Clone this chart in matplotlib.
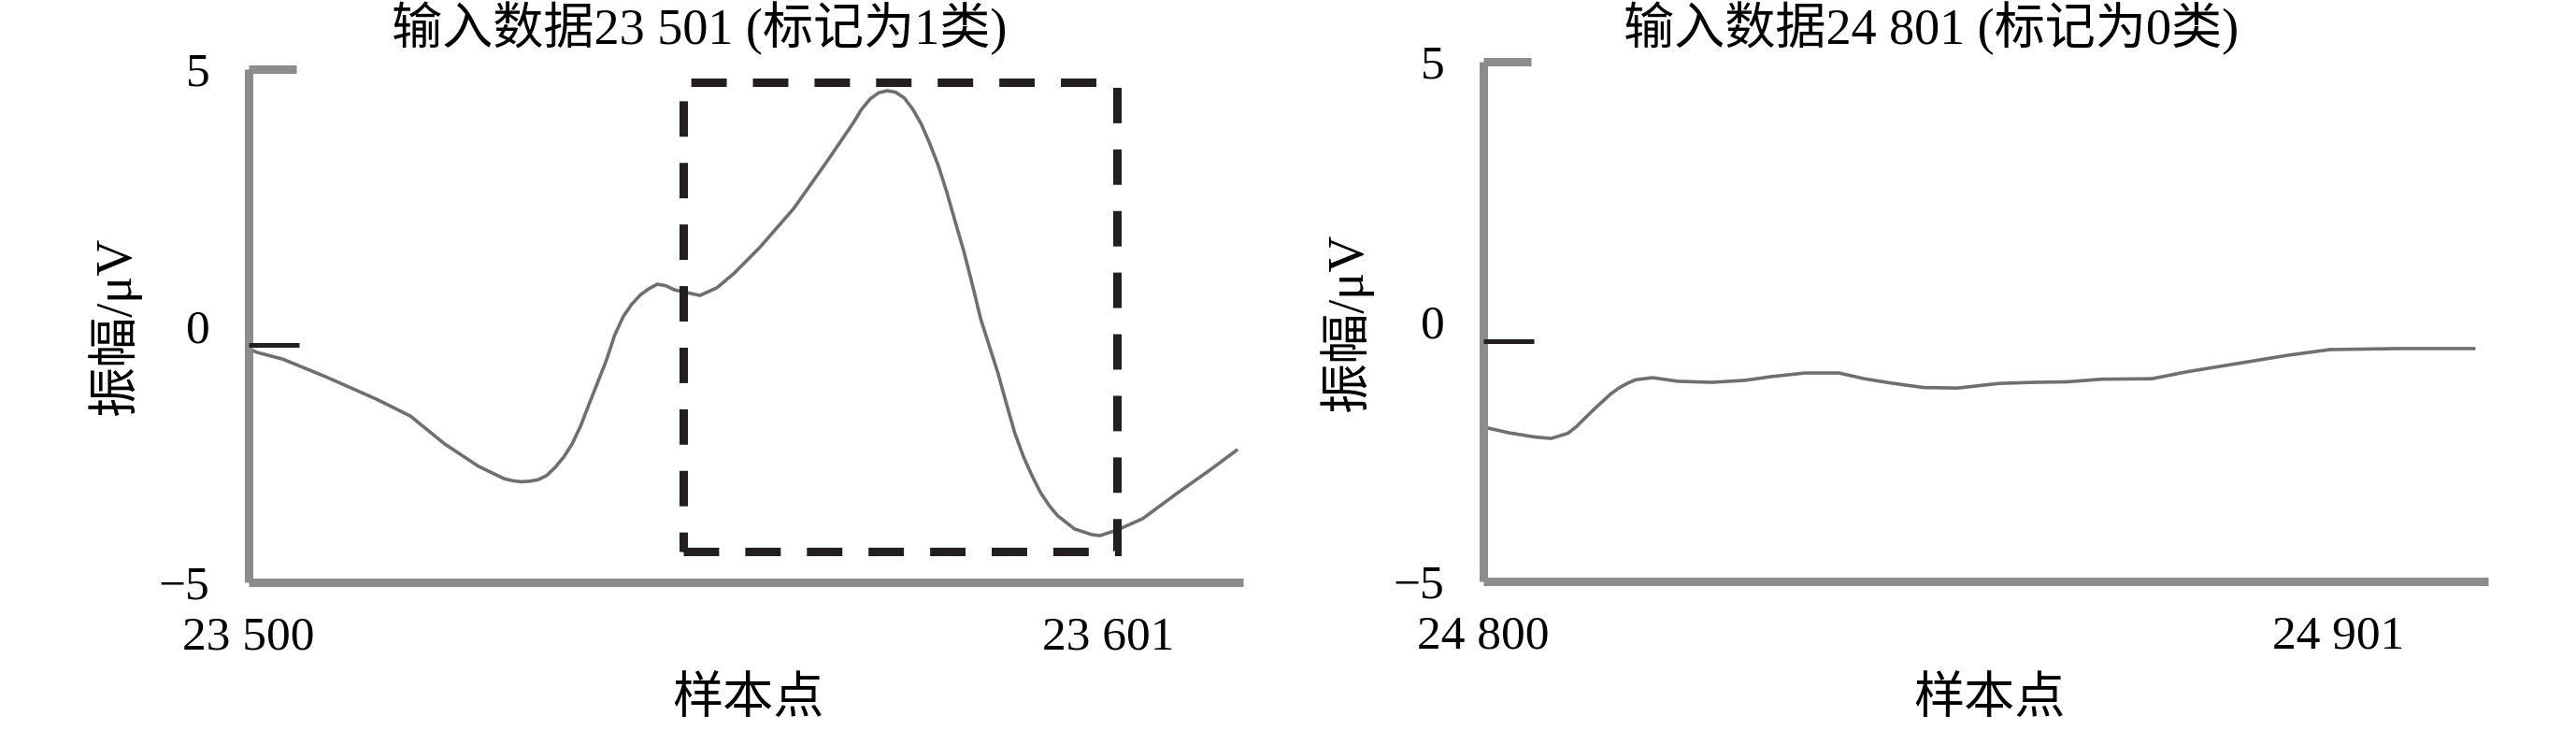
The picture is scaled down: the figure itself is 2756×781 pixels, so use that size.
import matplotlib
matplotlib.use('Agg')
import matplotlib.pyplot as plt
from matplotlib.patches import Rectangle
import numpy as np

plt.rcParams['font.family'] = ['Liberation Serif', 'Noto Sans CJK SC']
plt.rcParams['axes.unicode_minus'] = True

# ---------------- data ----------------
left_start = 23500
left_offsets = [0, 1, 4, 9, 15, 19, 23, 27, 30, 31, 32, 33, 34, 35, 36, 37, 38, 39, 40, 41,
                42, 43, 44, 45, 46, 47, 48, 49, 50, 53, 55, 57, 60, 64, 68, 71, 72, 73, 74,
                75, 76, 77, 78, 79, 80, 81, 82, 83, 84, 85, 86, 87, 88, 89, 90, 91, 92, 93,
                94, 95, 97, 99, 100, 102, 105, 109, 113, 116]
left_values = [-0.45, -0.52, -0.65, -0.99, -1.43, -1.76, -2.30, -2.74, -2.98, -3.02, -3.04,
               -3.03, -3.00, -2.92, -2.76, -2.56, -2.30, -1.95, -1.52, -1.10, -0.68, -0.18,
               0.18, 0.42, 0.60, 0.72, 0.81, 0.78, 0.70, 0.59, 0.74, 1.02, 1.52, 2.28, 3.22,
               3.95, 4.22, 4.42, 4.54, 4.58, 4.55, 4.44, 4.22, 3.93, 3.55, 3.12, 2.60, 2.02,
               1.45, 0.80, 0.12, -0.40, -0.92, -1.52, -2.10, -2.55, -2.92, -3.25, -3.50,
               -3.70, -3.96, -4.07, -4.09, -3.98, -3.76, -3.27, -2.80, -2.43]

right_start = 24800
right_offsets = [0, 3, 6, 8, 10, 11, 12, 13, 14, 15, 16, 17, 18, 20, 23, 27, 31, 34, 38, 42,
                 45, 48, 52, 56, 61, 65, 69, 73, 79, 83, 89, 95, 100, 108, 117]
right_values = [-2.03, -2.14, -2.22, -2.25, -2.15, -2.02, -1.86, -1.70, -1.55, -1.40, -1.28,
                -1.19, -1.12, -1.08, -1.15, -1.17, -1.13, -1.06, -0.99, -0.99, -1.10, -1.18,
                -1.27, -1.28, -1.19, -1.17, -1.16, -1.11, -1.10, -0.97, -0.81, -0.65, -0.54,
                -0.52, -0.52]

titles = ['输入数据23 501 (标记为1类)', '输入数据24 801 (标记为0类)']
ylabel = '振幅/μV'
xlabel = '样本点'
left_xticks = [23500, 23601]
left_xticklabels = ['23 500', '23 601']
right_xticks = [24800, 24901]
right_xticklabels = ['24 800', '24 901']
yticks = [-5, 0, 5]
yticklabels = ['−5', '0', '5']
marker_level = [-0.37, -0.38]   # short black start markers
box_x = [23551, 23602]
box_y = [-4.4, 4.75]

# ---------------- figure ----------------
W, H = 2756, 781
DPI = 100
fig = plt.figure(figsize=(W / DPI, H / DPI), dpi=DPI)

def px_axes(x0, x1, ytop, ybot):
    return fig.add_axes([x0 / W, (H - ybot) / H, (x1 - x0) / W, (ybot - ytop) / H])

GRAY = '#8c8c8c'
LINE = '#6f6f6f'
BLACK = '#231f20'
FS = 37
FS_CJK = 39
SPW = 6.5

axL = px_axes(266, 1330, 74, 623)
axR = px_axes(1587, 2662, 66, 622)

def style(ax, xl, xt, xtl, mlevel, axw_px):
    ax.set_xlim(*xl)
    ax.set_ylim(-5, 5)
    for s in ['top', 'right']:
        ax.spines[s].set_visible(False)
    for s in ['left', 'bottom']:
        ax.spines[s].set_color(GRAY)
        ax.spines[s].set_linewidth(SPW)
        ax.spines[s].set_capstyle('butt')
    ax.set_xticks(xt)
    ax.set_xticklabels(xtl)
    ax.set_yticks(yticks)
    ax.set_yticklabels(yticklabels)
    ax.tick_params(axis='x', length=0, pad=26, labelsize=FS)
    ax.tick_params(axis='y', length=0, pad=30, labelsize=FS)
    tr = ax.get_yaxis_transform()
    ax.plot([0, 51 / axw_px], [5, 5], transform=tr, color=GRAY, lw=SPW,
            solid_capstyle='butt', clip_on=False, zorder=3)
    ax.plot([0, 54 / axw_px], [mlevel, mlevel], transform=tr, color=BLACK, lw=3.6,
            solid_capstyle='butt', clip_on=False, zorder=4)
    ax.set_facecolor('none')

style(axL, (23500, 23616.8), left_xticks, left_xticklabels, marker_level[0], 1064)
style(axR, (24800, 24918.7), right_xticks, right_xticklabels, marker_level[1], 1075)

lx = np.array(left_offsets) + left_start
rx = np.array(right_offsets) + right_start
axL.plot(lx, left_values, color=LINE, lw=2.6, solid_joinstyle='round', zorder=2)
axR.plot(rx, right_values, color=LINE, lw=2.6, solid_joinstyle='round', zorder=2)

rect = Rectangle((box_x[0], box_y[0]), box_x[1] - box_x[0], box_y[1] - box_y[0],
                 fill=False, edgecolor=BLACK, lw=6.5, linestyle=(0, (4.2, 3.1)),
                 zorder=3)
axL.add_patch(rect)

def ftext(x, y, s, **kw):
    fig.text(x / W, (H - y) / H, s, fontsize=FS_CJK, ha='center', va='center', **kw)

ftext(748, 30, titles[0])
ftext(2066, 30, titles[1])
ftext(122, 348, ylabel, rotation=90)
ftext(1440, 344, ylabel, rotation=90)
ftext(800, 750, xlabel)
ftext(2128, 750, xlabel)

fig.savefig('out.png', dpi=DPI)
